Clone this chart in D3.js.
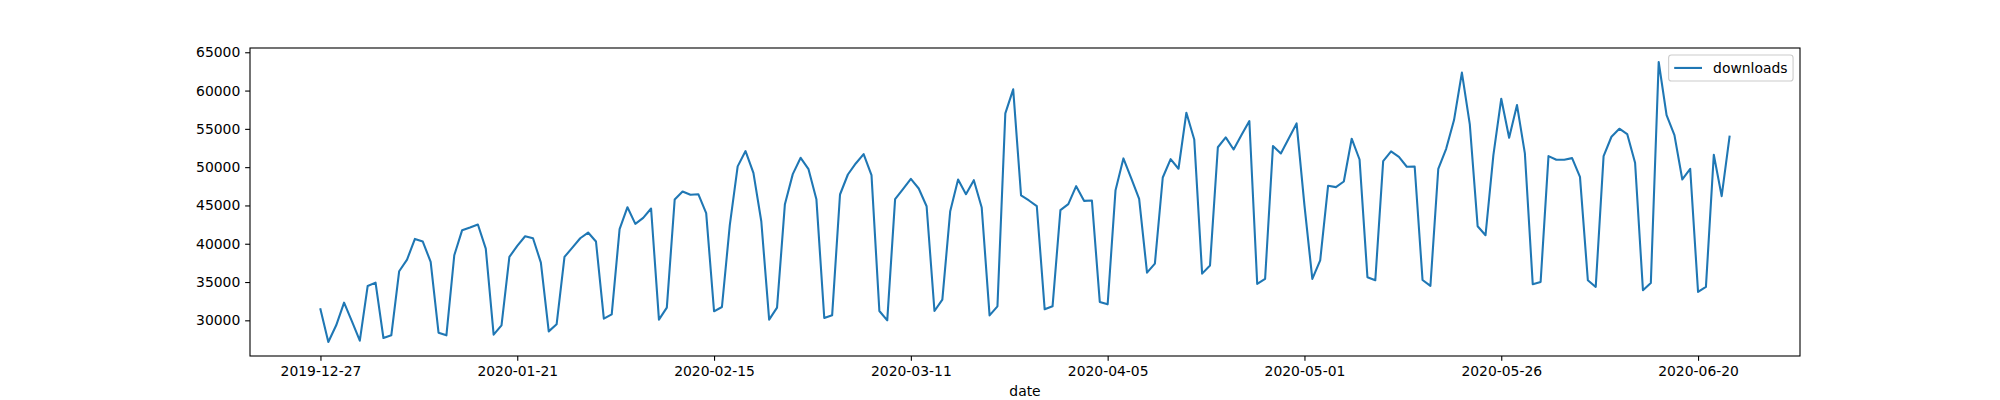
<!DOCTYPE html>
<html>
<head>
<meta charset="utf-8">
<script src="https://cdn.jsdelivr.net/npm/d3@7"></script>
<style>
  body { margin: 0; background: #fff; }
  svg { display: block; font-family: "DejaVu Sans", sans-serif; }
</style>
</head>
<body>
<svg id="chart" width="2000" height="400"></svg>
<script>
// daily downloads, one value per day (index position on the x axis)
const downloads = [
  31440, 27170, 29350, 32310, 29870, 27340, 34490, 34920, 27690, 28040,
  36410, 37930, 40630, 40290, 37630, 28390, 28040, 38500, 41770, 42120,
  42510, 39370, 28130, 29350, 38280, 39720, 40980, 40720, 37540, 28560,
  29480, 38280, 39500, 40720, 41460, 40290, 30220, 30780, 41900, 44770,
  42600, 43380, 44600, 30090, 31660, 45780, 46820, 46390, 46470, 43990,
  31180, 31740, 42420, 50100, 52100, 49260, 42940, 30090, 31660, 45170,
  49090, 51220, 49740, 45820, 30300, 30650, 46430, 49040, 50480, 51700,
  48960, 31220, 30000, 45820, 47130, 48480, 47210, 44900, 31220, 32700,
  44250, 48390, 46470, 48300, 44730, 30650, 31830, 57020, 60160, 46300,
  45650, 44900, 31440, 31830, 44380, 45170, 47520, 45600, 45650, 32400,
  32090, 47000, 51140, 48520, 45860, 36230, 37410, 48650, 51050, 49790,
  57110, 53620, 36100, 37150, 52600, 53880, 52310, 54190, 56020, 34750,
  35400, 52750, 51790, 53750, 55710, 45000, 35400, 37840, 47560, 47390,
  48130, 53710, 51000, 35620, 35230, 50790, 52050, 51350, 50050, 50090,
  35270, 34490, 49790, 52400, 56150, 62340, 55630, 42290, 41110, 51570,
  58940, 53840, 58110, 51790, 34710, 35010, 51440, 50960, 50960, 51180,
  48740, 35230, 34360, 51440, 53970, 55020, 54320, 50570, 33920, 34880,
  63730, 56800, 54190, 48390, 49790, 33700, 34360, 51620, 46210, 53970
];

// x tick positions (row index) and the date labels shown there
const xTickIdx = [0, 25, 50, 75, 100, 125, 150, 175];
const xTickLabels = ['2019-12-27', '2020-01-21', '2020-02-15', '2020-03-11',
                     '2020-04-05', '2020-05-01', '2020-05-26', '2020-06-20'];
const yTicks = [30000, 35000, 40000, 45000, 50000, 55000, 60000, 65000];

const seriesName = 'downloads';
const xLabel = 'date';

const W = 2000, H = 400;
const margin = { left: 250, right: 200, top: 48, bottom: 44 };
const fontSize = 13.9;
const blue = '#1f77b4';

const svg = d3.select('#chart');

// matplotlib style 5% padding on both axes
const n = downloads.length;
const xPad = (n - 1) * 0.05;
const x = d3.scaleLinear()
    .domain([-xPad, n - 1 + xPad])
    .range([margin.left, W - margin.right]);

const [yMin, yMax] = d3.extent(downloads);
const yPad = (yMax - yMin) * 0.05;
const y = d3.scaleLinear()
    .domain([yMin - yPad, yMax + yPad])
    .range([H - margin.bottom, margin.top]);

const tickLen = 4.86;
const tickPad = 4.86;

// x axis
const xAxis = d3.axisBottom(x)
    .tickValues(xTickIdx)
    .tickFormat((d, i) => xTickLabels[i])
    .tickSizeInner(tickLen)
    .tickSizeOuter(0)
    .tickPadding(tickPad);

const gx = svg.append('g')
    .attr('transform', `translate(0,${H - margin.bottom})`)
    .call(xAxis);
gx.select('.domain').remove();
gx.selectAll('.tick line').attr('stroke', '#000').attr('stroke-width', 1.1);
gx.selectAll('.tick text')
    .attr('fill', '#000')
    .attr('font-size', fontSize)
    .attr('font-family', '"DejaVu Sans", sans-serif');

// y axis
const yAxis = d3.axisLeft(y)
    .tickValues(yTicks)
    .tickFormat(d3.format('d'))
    .tickSizeInner(tickLen)
    .tickSizeOuter(0)
    .tickPadding(tickPad);

const gy = svg.append('g')
    .attr('transform', `translate(${margin.left},0)`)
    .call(yAxis);
gy.select('.domain').remove();
gy.selectAll('.tick line').attr('stroke', '#000').attr('stroke-width', 1.1);
gy.selectAll('.tick text')
    .attr('fill', '#000')
    .attr('font-size', fontSize)
    .attr('font-family', '"DejaVu Sans", sans-serif');

// the line
const line = d3.line()
    .x((d, i) => x(i))
    .y(d => y(d));

svg.append('path')
    .datum(downloads)
    .attr('fill', 'none')
    .attr('stroke', blue)
    .attr('stroke-width', 2.08)
    .attr('stroke-linejoin', 'round')
    .attr('stroke-linecap', 'square')
    .attr('d', line);

// axes frame
svg.append('rect')
    .attr('x', margin.left)
    .attr('y', margin.top)
    .attr('width', W - margin.left - margin.right)
    .attr('height', H - margin.top - margin.bottom)
    .attr('fill', 'none')
    .attr('stroke', '#000')
    .attr('stroke-width', 1.1);

// x axis label
svg.append('text')
    .attr('x', (margin.left + W - margin.right) / 2)
    .attr('y', 396)
    .attr('text-anchor', 'middle')
    .attr('font-size', fontSize)
    .attr('fill', '#000')
    .text(xLabel);

// legend, upper right
const legend = svg.append('g');
const legRight = W - margin.right - 6.94;
const legTop = margin.top + 6.94;
const legText = legend.append('text')
    .attr('font-size', fontSize)
    .attr('fill', '#000')
    .text(seriesName);
const textW = legText.node().getComputedTextLength();
const legW = 5.56 + 27.8 + 11.1 + textW + 5.56;
const legH = 26;
const legLeft = legRight - legW;

legend.insert('rect', 'text')
    .attr('x', legLeft)
    .attr('y', legTop)
    .attr('width', legW)
    .attr('height', legH)
    .attr('rx', 2.8)
    .attr('fill', '#fff')
    .attr('fill-opacity', 0.8)
    .attr('stroke', '#cccccc')
    .attr('stroke-width', 1.1);

legend.append('line')
    .attr('x1', legLeft + 5.56)
    .attr('x2', legLeft + 5.56 + 27.8)
    .attr('y1', legTop + legH / 2)
    .attr('y2', legTop + legH / 2)
    .attr('stroke', blue)
    .attr('stroke-width', 2.08);

legText
    .attr('x', legLeft + 5.56 + 27.8 + 11.1)
    .attr('y', legTop + legH / 2)
    .attr('dy', '0.35em');
</script>
</body>
</html>
